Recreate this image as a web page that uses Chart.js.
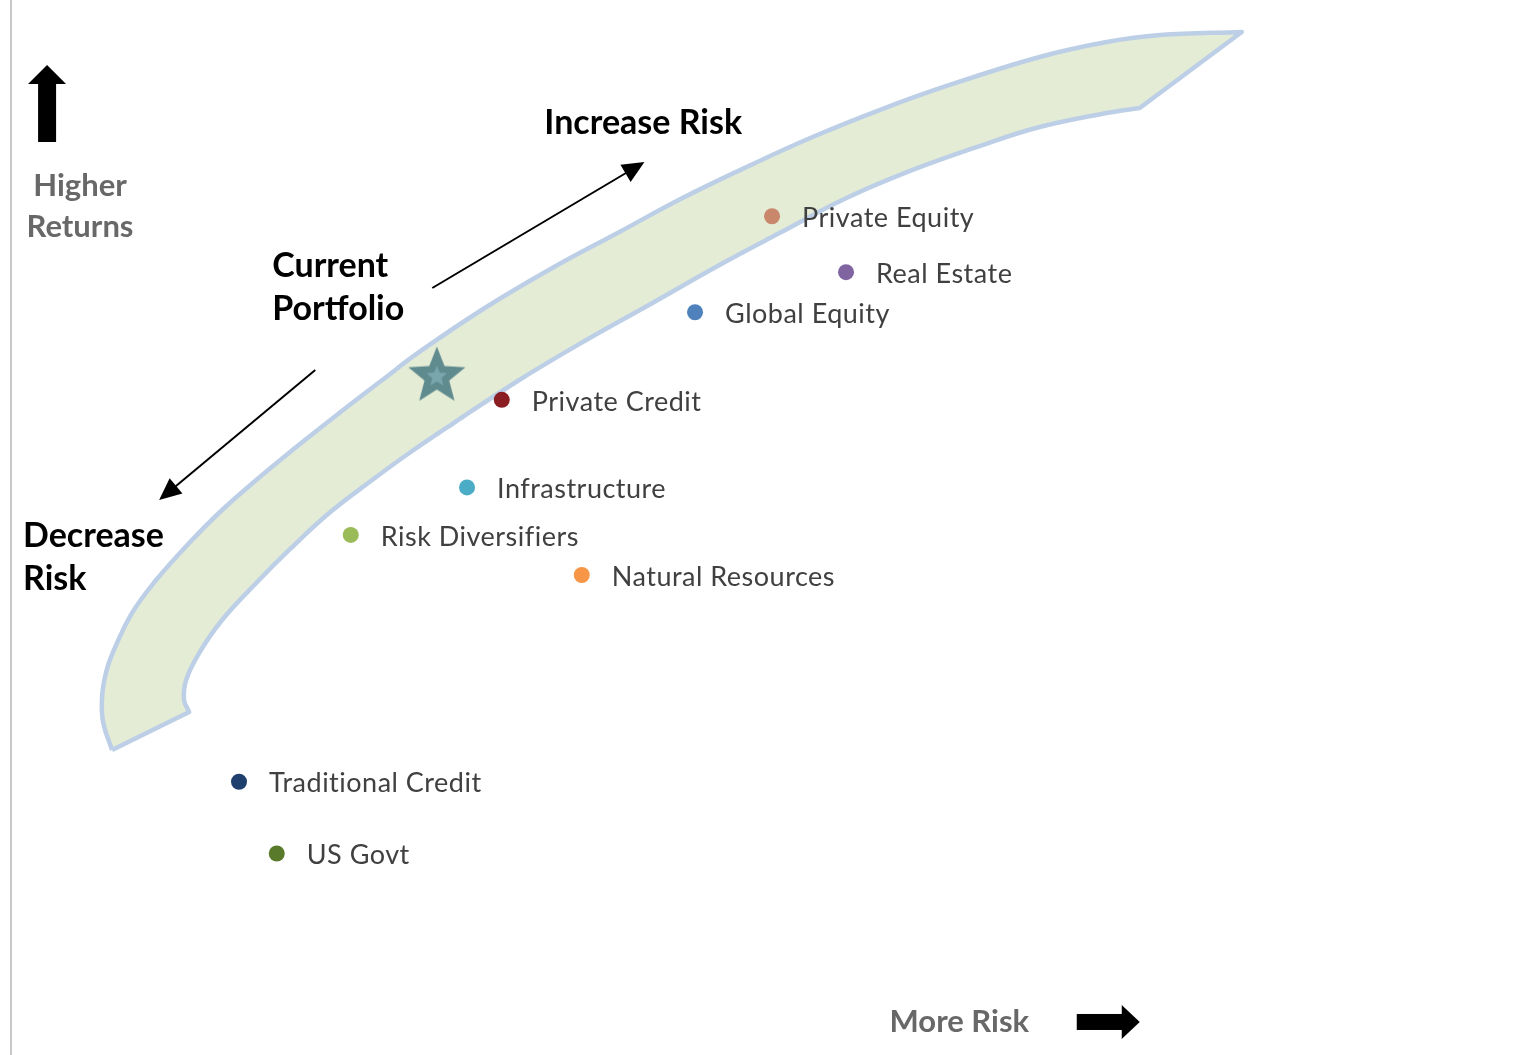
<!DOCTYPE html>
<html>
<head>
<meta charset="utf-8">
<script src="https://cdn.jsdelivr.net/npm/chart.js@4.4.1/dist/chart.umd.min.js"></script>
<style>
  html, body { margin: 0; padding: 0; background: #ffffff; }
  #chart { display: block; }
</style>
</head>
<body>
<canvas id="chart" width="1521" height="1055"></canvas>
<script>
// asset classes (risk on x, return on y, both 0-100)
const assetNames = ['Private Equity', 'Real Estate', 'Global Equity', 'Private Credit', 'Infrastructure',
                    'Risk Diversifiers', 'Natural Resources', 'Traditional Credit', 'US Govt'];
const assetRisk   = [50.4, 55.3, 45.3, 32.5, 30.2, 22.5, 37.8, 15.1, 17.6];
const assetReturn = [79.5, 74.2, 70.4, 62.1, 53.8, 49.3, 45.5, 25.9, 19.1];
const assetColors = ['#c9876b', '#8064a2', '#4f81bd', '#8b1e22', '#4bacc6',
                     '#9bbb59', '#f79646', '#1f3f6e', '#5a7a2b'];

// current portfolio (star)
const currentRisk = 28.2;
const currentReturn = 64.5;

// efficient band outline (outer edge up to the tip, then inner edge back down)
// corner vertices are listed twice so the curve keeps them sharp
const bandRisk = [6.69, 6.10, 6.03, 6.30, 6.76, 8.02, 9.61, 11.80, 13.98, 16.24, 18.89, 21.74, 24.59, 27.04,
                  31.48, 35.85, 40.29, 44.47, 48.71, 53.08, 57.52, 61.96, 68.12, 72.56, 76.08, 81.51, 81.51,
                  74.75, 74.75, 72.56, 68.12, 64.15, 59.71, 55.33, 50.89, 46.92, 42.48, 38.10, 33.66, 29.22,
                  26.38, 23.92, 21.07, 18.42, 16.24, 13.98, 12.46, 11.60, 11.46, 11.80, 11.80, 6.69];
const bandReturn = [28.91, 31.56, 33.93, 36.30, 38.20, 41.90, 45.02, 48.53, 51.66, 54.50, 57.63, 60.85, 63.98, 66.64,
                    70.90, 74.60, 78.01, 81.23, 84.17, 87.01, 89.57, 91.85, 94.60, 96.02, 96.68, 96.97, 96.97,
                    89.76, 89.76, 89.29, 87.96, 86.16, 83.89, 81.23, 77.91, 74.88, 71.28, 67.77, 63.98, 59.81,
                    57.06, 54.50, 51.37, 47.87, 44.74, 41.23, 38.10, 35.55, 33.65, 32.51, 32.51, 28.91];

// arrows: [x1, y1, x2, y2] in chart units
const arrowIncrease = [27.90, 72.70, 41.95, 84.64];
const arrowDecrease = [20.15, 64.93, 9.81, 52.61];
const arrowReturns  = [2.39, 86.54, 2.39, 93.84];
const arrowRisk     = [70.58, 3.13, 74.75, 3.13];

// text notes
const notes = [
  { text: 'Increase Risk', x: 35.32, y: 88.34, kind: 'dark' },
  { text: 'Current', x: 17.30, y: 74.79, kind: 'dark' },
  { text: 'Portfolio', x: 17.30, y: 70.71, kind: 'dark' },
  { text: 'Decrease', x: 0.80, y: 49.19, kind: 'dark' },
  { text: 'Risk', x: 0.80, y: 45.12, kind: 'dark' },
  { text: 'Higher', x: 4.57, y: 82.37, kind: 'grey', center: true },
  { text: 'Returns', x: 4.57, y: 78.48, kind: 'grey', center: true },
  { text: 'More Risk', x: 58.18, y: 3.13, kind: 'grey' }
];

// star image for the current portfolio
function makeStar() {
  const c = document.createElement('canvas');
  c.width = 66; c.height = 66;
  const g = c.getContext('2d');
  const star = (r, ri, col) => {
    g.beginPath();
    for (let i = 0; i < 10; i++) {
      const a = -Math.PI / 2 + i * Math.PI / 5;
      const rr = i % 2 === 0 ? r : ri;
      g.lineTo(33 + rr * Math.cos(a), 35 + rr * Math.sin(a));
    }
    g.closePath();
    g.fillStyle = col;
    g.fill();
  };
  star(30, 13, '#5f8a8e');
  star(11, 5, '#79a5ad');
  return c;
}

const labelPlugin = {
  id: 'labels',
  afterDatasetsDraw(chart) {
    const ctx = chart.ctx;
    const xs = chart.scales.x, ys = chart.scales.y;
    ctx.save();
    // point labels
    const meta = chart.getDatasetMeta(0);
    ctx.font = '27px Lato';
    ctx.letterSpacing = '0.5px';
    ctx.fillStyle = '#404040';
    ctx.textBaseline = 'middle';
    ctx.textAlign = 'left';
    meta.data.forEach((pt, i) => {
      ctx.fillText(assetNames[i], pt.x + 30, pt.y + 2);
    });
    ctx.letterSpacing = '0px';
    // arrows
    const arrow = (a, shaft, headLen, headW) => {
      const x1 = xs.getPixelForValue(a[0]), y1 = ys.getPixelForValue(a[1]);
      const x2 = xs.getPixelForValue(a[2]), y2 = ys.getPixelForValue(a[3]);
      const len = Math.hypot(x2 - x1, y2 - y1);
      ctx.save();
      ctx.translate(x2, y2);
      ctx.rotate(Math.atan2(y2 - y1, x2 - x1));
      ctx.fillStyle = '#000';
      ctx.strokeStyle = '#000';
      if (shaft <= 3) {
        ctx.lineWidth = shaft;
        ctx.beginPath();
        ctx.moveTo(-len, 0);
        ctx.lineTo(-headLen + 2, 0);
        ctx.stroke();
      } else {
        ctx.fillRect(-len, -shaft / 2, len - headLen + 1, shaft);
      }
      ctx.beginPath();
      ctx.moveTo(0, 0);
      ctx.lineTo(-headLen, -headW / 2);
      ctx.lineTo(-headLen, headW / 2);
      ctx.closePath();
      ctx.fill();
      ctx.restore();
    };
    arrow(arrowIncrease, 2, 22, 20);
    arrow(arrowDecrease, 2, 22, 20);
    arrow(arrowReturns, 18, 19, 38);
    arrow(arrowRisk, 16, 18, 34);
    // notes
    notes.forEach(n => {
      if (n.kind === 'dark') {
        ctx.font = 'bold 34px Lato';
        ctx.fillStyle = '#000000';
      } else {
        ctx.font = 'bold 31px Lato';
        ctx.fillStyle = '#686868';
      }
      ctx.textAlign = n.center ? 'center' : 'left';
      ctx.fillText(n.text, xs.getPixelForValue(n.x), ys.getPixelForValue(n.y));
    });
    ctx.restore();
  }
};

new Chart(document.getElementById('chart'), {
  type: 'scatter',
  data: {
    datasets: [
      {
        data: assetRisk.map((r, i) => ({ x: r, y: assetReturn[i] })),
        backgroundColor: assetColors,
        pointRadius: 8,
        borderWidth: 0,
        order: 0
      },
      {
        data: [{ x: currentRisk, y: currentReturn }],
        pointStyle: makeStar(),
        order: 1
      },
      {
        data: bandRisk.map((r, i) => ({ x: r, y: bandReturn[i] })),
        showLine: true,
        fill: 'shape',
        tension: 0.4,
        pointRadius: 0,
        borderColor: '#bccfe6',
        borderWidth: 4.5,
        borderJoinStyle: 'round',
        backgroundColor: '#e4ecd6',
        order: 2
      }
    ]
  },
  options: {
    responsive: false,
    animation: false,
    events: [],
    layout: { autoPadding: false, padding: { left: 11, top: 0, right: 0, bottom: 0 } },
    plugins: {
      legend: { display: false },
      tooltip: { enabled: false }
    },
    scales: {
      x: { min: 0, max: 100, display: false },
      y: {
        min: 0, max: 100,
        display: true,
        ticks: { display: false },
        grid: { display: false, drawTicks: false },
        border: { display: true, color: '#c8c8c8', width: 2 }
      }
    }
  },
  plugins: [labelPlugin]
});
</script>
</body>
</html>
